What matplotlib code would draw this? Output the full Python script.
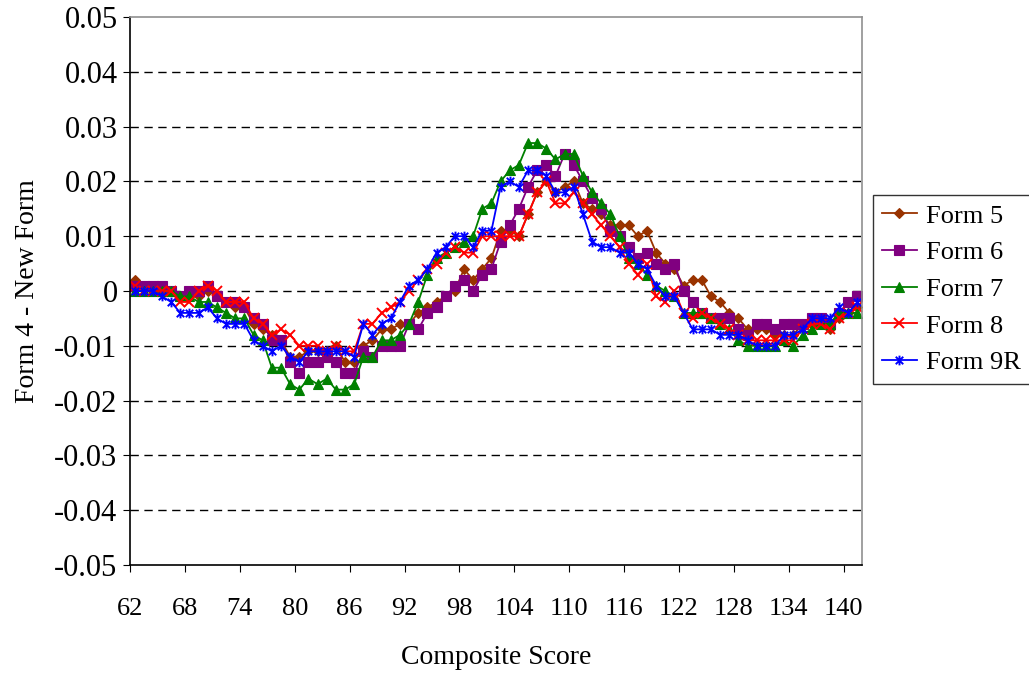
import matplotlib
matplotlib.use("Agg")
import matplotlib.pyplot as plt
from matplotlib.path import Path
import numpy as np

scores = list(range(62, 142))
tick_scores = list(range(62, 141, 6))

# values in thousandths
form5 = [2, 1, 0, 0, 0, -1, -1, -1, 0, -1, -2, -3, -3, -6, -7, -8, -9, -12, -12, -11,
         -11, -11, -10, -13, -13, -10, -9, -7, -7, -6, -6, -4, -3, -2, -1, 0, 4, 2, 4, 6,
         11, 11, 10, 14, 18, 20, 18, 19, 20, 16, 15, 14, 12, 12, 12, 10, 11, 7, 5, 4,
         1, 2, 2, -1, -2, -4, -5, -7, -7, -7, -8, -8, -8, -6, -6, -6, -7, -5, -4, -3]
form6 = [1, 1, 1, 1, 0, -1, 0, 0, 1, -1, -2, -2, -3, -5, -6, -9, -9, -13, -15, -13,
         -13, -12, -13, -15, -15, -11, -12, -10, -10, -10, -6, -7, -4, -3, -1, 1, 2, 0, 3, 4,
         9, 12, 15, 19, 22, 23, 21, 25, 23, 20, 17, 15, 11, 10, 8, 6, 7, 5, 4, 5,
         0, -2, -4, -5, -5, -5, -7, -8, -6, -6, -7, -6, -6, -6, -5, -5, -6, -4, -2, -1]
form7 = [0, 0, 0, 0, 0, -1, -1, -2, -2, -3, -4, -5, -5, -8, -9, -14, -14, -17, -18, -16,
         -17, -16, -18, -18, -17, -12, -12, -9, -9, -8, -6, -2, 3, 6, 7, 8, 9, 10, 15, 16,
         20, 22, 23, 27, 27, 26, 24, 25, 25, 21, 18, 16, 14, 10, 6, 5, 3, 1, 0, -1,
         -4, -4, -4, -5, -6, -7, -9, -10, -10, -10, -10, -9, -10, -8, -7, -6, -6, -4, -4, -4]
form8 = [1, 0, 0, 0, 0, -2, -2, 0, 1, 0, -2, -2, -2, -5, -6, -8, -7, -8, -10, -10,
         -10, -11, -10, -11, -11, -6, -6, -4, -3, -2, 0, 2, 4, 5, 7, 8, 7, 7, 10, 10,
         10, 10, 10, 14, 18, 20, 16, 16, 18, 16, 14, 12, 10, 8, 5, 3, 5, -1, -2, 0,
         -4, -5, -4, -5, -6, -7, -8, -9, -9, -9, -9, -9, -9, -7, -6, -6, -7, -5, -4, -3]
form9r = [0, 0, 0, -1, -2, -4, -4, -4, -3, -5, -6, -6, -6, -9, -10, -11, -10, -12, -13, -11,
          -11, -11, -11, -11, -12, -6, -8, -6, -5, -2, 1, 2, 4, 7, 8, 10, 10, 8, 11, 11,
          19, 20, 19, 22, 22, 21, 18, 18, 19, 14, 9, 8, 8, 7, 7, 5, 4, 1, -1, -1,
          -4, -7, -7, -7, -8, -8, -8, -9, -10, -10, -10, -8, -8, -7, -5, -5, -5, -3, -4, -2]

series_names = ["Form 5", "Form 6", "Form 7", "Form 8", "Form 9R"]
series_vals = [form5, form6, form7, form8, form9r]
colors = ["#993300", "#800080", "#008000", "#FF0000", "#0000FF"]

star = Path([(-1, -1), (1, 1), (-1, 1), (1, -1), (0, -1.3), (0, 1.3)],
            [Path.MOVETO, Path.LINETO, Path.MOVETO, Path.LINETO, Path.MOVETO, Path.LINETO])
markers = ["D", "s", "^", "x", star]
msizes = [5.5, 6.5, 7, 7, 7]

plt.rcParams['font.family'] = ['Liberation Serif', 'DejaVu Serif']

fig = plt.figure(figsize=(10.29, 6.73), dpi=100)
ax = fig.add_axes([130/1029, 1 - 565/673, (862 - 130)/1029, (565 - 17)/673])

for name, vals, c, m, ms in zip(series_names, series_vals, colors, markers, msizes):
    y = np.array(vals) / 1000.0
    kw = dict(color=c, lw=1.3, marker=m, markersize=ms, markeredgecolor=c, label=name)
    if m in ("x",) or isinstance(m, Path):
        kw.update(markerfacecolor='none', markeredgewidth=1.4)
    else:
        kw.update(markerfacecolor=c, markeredgewidth=0.8)
    ax.plot(scores, y, **kw)

# category-style axis: each score occupies one slot, ticks on slot boundaries
ax.set_xlim(scores[0] - 0.5, scores[-1] + 0.5)
ax.set_ylim(-0.05, 0.05)
ax.set_xticks([s - 0.5 for s in tick_scores])
ax.set_xticklabels([str(s) for s in tick_scores])
ax.set_yticks(np.round(np.arange(-0.05, 0.0501, 0.01), 2))
ax.yaxis.set_major_formatter(matplotlib.ticker.FuncFormatter(lambda v, p: "0" if abs(v) < 1e-9 else f"{v:.2f}"))
for yv in np.arange(-0.04, 0.0401, 0.01):
    ax.axhline(yv, color='black', lw=1.0, ls=(0, (6, 4)), zorder=0)

ax.tick_params(axis='x', labelsize=19, direction='out', length=5, color='black', pad=19)
ax.tick_params(axis='y', labelsize=22, direction='out', length=5, color='black', pad=4)
ax.spines['left'].set_color('black')
ax.spines['bottom'].set_color('black')
ax.spines['top'].set_color('#909090')
ax.spines['right'].set_color('#909090')
for s in ax.spines.values():
    s.set_linewidth(1.2)

ax.set_xlabel("Composite Score", fontsize=20, labelpad=18)
ax.set_ylabel("Form 4 - New Form", fontsize=20, labelpad=10)

leg = fig.legend(loc='upper left', bbox_to_anchor=(873/1029, 1 - 195/673),
                 bbox_transform=fig.transFigure,
                 fontsize=19, frameon=True, fancybox=False, edgecolor='black',
                 handlelength=1.3, handletextpad=0.35, borderaxespad=0,
                 labelspacing=0.5, borderpad=0.35)
leg.get_frame().set_linewidth(1.0)

fig.savefig("out.png", dpi=100)
